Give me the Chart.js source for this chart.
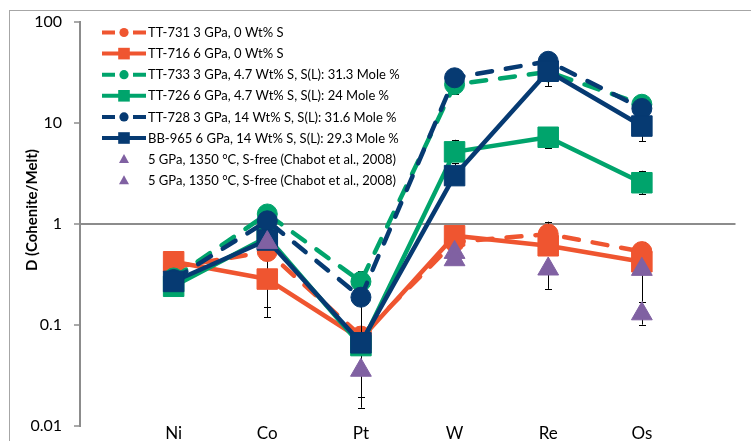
<!DOCTYPE html>
<html>
<head>
<meta charset="utf-8">
<script src="https://cdn.jsdelivr.net/npm/chart.js@4/dist/chart.umd.min.js"></script>
<style>
  html, body { margin: 0; padding: 0; background: #fff; overflow: hidden; }
  #wrap { position: relative; width: 751px; height: 441px; }
</style>
</head>
<body>
<div id="wrap"><canvas id="c" width="751" height="441"></canvas></div>
<script>
// Elements along the horizontal axis
const categories = ['Ni', 'Co', 'Pt', 'W', 'Re', 'Os'];
// Decade ticks of the log axis
const yTicks = [0.01, 0.1, 1, 10, 100];
const yTitle = 'D (Cohenite/Melt)';

// Partition coefficients D (cohenite/melt), one value per element
const tt731 = [0.37, 0.53, 0.077, 0.66, 0.79, 0.53];
const tt716 = [0.42, 0.283, 0.072, 0.76, 0.605, 0.42];
const tt733 = [0.29, 1.25, 0.267, 24, 32, 15.3];
const tt726 = [0.24, 0.74, 0.062, 5.16, 7.2, 2.55];
const tt728 = [0.28, 1.07, 0.187, 28, 40.8, 13.9];
const bb965 = [0.268, 0.69, 0.066, 3.0, 32.5, 9.3];
const chabotA = [null, 0.65, 0.0353, 0.52, 0.356, 0.353];
const chabotB = [null, null, null, 0.44, null, 0.128];

// Error bars as [low, high]; null where none is drawn
const tt731Err = [null, [0.149, 0.53], null, null, [0.79, 1.05], [0.53, 0.66]];
const tt716Err = [null, [0.118, 0.283], [0.0193, 0.072], null, null, null];
const tt733Err = [null, null, [0.2, 0.34], [19.5, 24], null, null];
const tt726Err = [null, null, null, [5.16, 6.8], [5.6, 9.1], [1.97, 3.35]];
const tt728Err = [null, null, [0.075, 0.187], null, null, null];
const bb965Err = [null, null, null, [3.0, 4.0], [23, 32.5], [6.6, 9.3]];
const chabotAErr = [null, null, [0.015, 0.0353], null, [0.226, 0.356], [0.169, 0.353]];
const chabotBErr = [null, null, null, null, null, [0.1, 0.128]];

const ORANGE = '#EF5530';
const GREEN = '#00A46C';
const NAVY = '#063A72';
const PURPLE = '#8061A2';
const GRAY = '#8c8c8c';
const FONT = 'Lato, "Open Sans", sans-serif';

const series = [
  { label: 'TT-731 3 GPa, 0 Wt% S', data: tt731, err: tt731Err, color: ORANGE, line: true, dash: true, marker: 'circle' },
  { label: 'TT-716 6 GPa, 0 Wt% S', data: tt716, err: tt716Err, color: ORANGE, line: true, dash: false, marker: 'rect' },
  { label: 'TT-733 3 GPa, 4.7 Wt% S, S(L): 31.3 Mole %', data: tt733, err: tt733Err, color: GREEN, line: true, dash: true, marker: 'circle' },
  { label: 'TT-726 6 GPa, 4.7 Wt% S, S(L): 24 Mole %', data: tt726, err: tt726Err, color: GREEN, line: true, dash: false, marker: 'rect' },
  { label: 'TT-728 3 GPa, 14 Wt% S, S(L): 31.6 Mole %', data: tt728, err: tt728Err, color: NAVY, line: true, dash: true, marker: 'circle' },
  { label: 'BB-965 6 GPa, 14 Wt% S, S(L): 29.3 Mole %', data: bb965, err: bb965Err, color: NAVY, line: true, dash: false, marker: 'rect' },
  { label: '5 GPa, 1350 °C, S-free (Chabot et al., 2008)', data: chabotA, err: chabotAErr, color: PURPLE, line: false, dash: false, marker: 'triangle' },
  { label: '5 GPa, 1350 °C, S-free (Chabot et al., 2008)', data: chabotB, err: chabotBErr, color: PURPLE, line: false, dash: false, marker: 'triangle' }
];

const markerRadius = { circle: 10, rect: 14.5, triangle: 12 };

// Outer frame of the chart object
const framePlugin = {
  id: 'frame',
  beforeDraw(chart) {
    const ctx = chart.ctx;
    ctx.save();
    ctx.fillStyle = '#fff';
    ctx.fillRect(0, 0, chart.width, chart.height);
    ctx.strokeStyle = '#a6a6a6';
    ctx.lineWidth = 1;
    ctx.strokeRect(9.5, 10.5, 900, 600);
    ctx.restore();
  }
};

// Vertical error bars, drawn just beneath each series' own line and markers
const errorBarPlugin = {
  id: 'errorBars',
  beforeDatasetDraw(chart, args) {
    const s = series[args.index];
    if (!s || !s.err) return;
    const ctx = chart.ctx;
    const xs = chart.scales.x, ys = chart.scales.y;
    ctx.save();
    ctx.strokeStyle = '#000';
    ctx.lineWidth = 1;
    s.err.forEach((e, i) => {
      if (!e) return;
      const x = Math.round(xs.getPixelForValue(i + 1)) + 0.5;
      const y1 = ys.getPixelForValue(e[0]);
      const y2 = ys.getPixelForValue(e[1]);
      ctx.beginPath();
      ctx.moveTo(x, y1); ctx.lineTo(x, y2);
      ctx.moveTo(x - 3.5, Math.round(y1) + 0.5); ctx.lineTo(x + 3.5, Math.round(y1) + 0.5);
      ctx.moveTo(x - 3.5, Math.round(y2) + 0.5); ctx.lineTo(x + 3.5, Math.round(y2) + 0.5);
      ctx.stroke();
    });
    ctx.restore();
  }
};

// Legend inside the plot area (line sample with marker, then label)
const legendPlugin = {
  id: 'insideLegend',
  afterDraw(chart) {
    const ctx = chart.ctx;
    const ca = chart.chartArea;
    series.forEach((s, i) => {
      const cy = ca.top + 10.5 + i * 21.1;
      const x0 = ca.left + 22;
      const cx = x0 + 22;
      ctx.save();
      ctx.strokeStyle = s.color;
      ctx.fillStyle = s.color;
      ctx.lineWidth = 4;
      if (s.line) {
        ctx.beginPath();
        if (s.dash) {
          ctx.moveTo(x0, cy); ctx.lineTo(x0 + 13, cy);
          ctx.moveTo(x0 + 31, cy); ctx.lineTo(x0 + 44, cy);
        } else {
          ctx.moveTo(x0, cy); ctx.lineTo(x0 + 44, cy);
        }
        ctx.stroke();
      }
      ctx.beginPath();
      if (s.marker === 'circle') {
        ctx.arc(cx, cy, 4.6, 0, Math.PI * 2);
      } else if (s.marker === 'rect') {
        ctx.rect(cx - 5.8, cy - 5.8, 11.6, 11.6);
      } else {
        ctx.moveTo(cx, cy - 5);
        ctx.lineTo(cx + 5, cy + 4);
        ctx.lineTo(cx - 5, cy + 4);
        ctx.closePath();
      }
      ctx.fill();
      ctx.fillStyle = '#000';
      ctx.font = '13px ' + FONT;
      ctx.textAlign = 'left';
      ctx.textBaseline = 'middle';
      ctx.fillText(s.label, x0 + 46, cy + 0.5);
      ctx.restore();
    });
  }
};

// Rotated value-axis title
const yTitlePlugin = {
  id: 'yTitle',
  afterDraw(chart) {
    const ctx = chart.ctx;
    ctx.save();
    ctx.translate(32, 210);
    ctx.rotate(-Math.PI / 2);
    ctx.fillStyle = '#000';
    ctx.font = 'bold 15px ' + FONT;
    ctx.textAlign = 'center';
    ctx.textBaseline = 'middle';
    ctx.fillText(yTitle, 0, 0);
    ctx.restore();
  }
};

new Chart(document.getElementById('c'), {
  type: 'line',
  data: {
    labels: ['', ...categories, ''],
    datasets: series.map((s, i) => ({
      label: s.label,
      data: [null, ...s.data, null],
      showLine: s.line,
      borderColor: s.color,
      backgroundColor: s.color,
      borderWidth: 4.5,
      borderDash: s.dash ? [15, 14] : [],
      borderCapStyle: s.dash ? 'round' : 'butt',
      borderJoinStyle: 'round',
      pointStyle: s.marker,
      pointRadius: markerRadius[s.marker],
      pointBorderWidth: 1,
      pointBorderColor: s.color,
      pointBackgroundColor: s.color,
      tension: 0,
      clip: false,
      order: series.length - i
    }))
  },
  options: {
    responsive: false,
    animation: false,
    events: [],
    layout: { padding: { left: 0, right: 3.5, top: 22, bottom: 0 } },
    plugins: {
      legend: { display: false },
      tooltip: { enabled: false }
    },
    scales: {
      x: {
        type: 'category',
        offset: false,
        grid: { display: false },
        border: { display: false },
        ticks: {
          autoSkip: false,
          maxRotation: 0,
          padding: -8,
          color: '#000',
          font: { family: FONT, size: 17, lineHeight: 1 }
        },
        afterFit(scale) {
          scale.height = 14;
          scale.paddingLeft = 0;
          scale.paddingRight = 0;
        }
      },
      y: {
        type: 'logarithmic',
        position: 'left',
        min: 0.01,
        max: 100,
        afterBuildTicks(scale) { scale.ticks = yTicks.map(v => ({ value: v, major: true })); },
        ticks: {
          callback: v => String(v),
          padding: 12,
          color: '#000',
          font: { family: FONT, size: 16 }
        },
        grid: {
          color: c => (c.tick && c.tick.value === 1 ? GRAY : 'rgba(0,0,0,0)'),
          lineWidth: 2,
          drawTicks: true,
          tickLength: 6,
          tickColor: GRAY,
          tickWidth: 1.5
        },
        border: { display: true, color: GRAY, width: 2 },
        afterFit(scale) {
          scale.width = 80;
          scale.paddingTop = 0;
          scale.paddingBottom = 0;
        }
      }
    }
  },
  plugins: [framePlugin, errorBarPlugin, legendPlugin, yTitlePlugin]
});
</script>
</body>
</html>
